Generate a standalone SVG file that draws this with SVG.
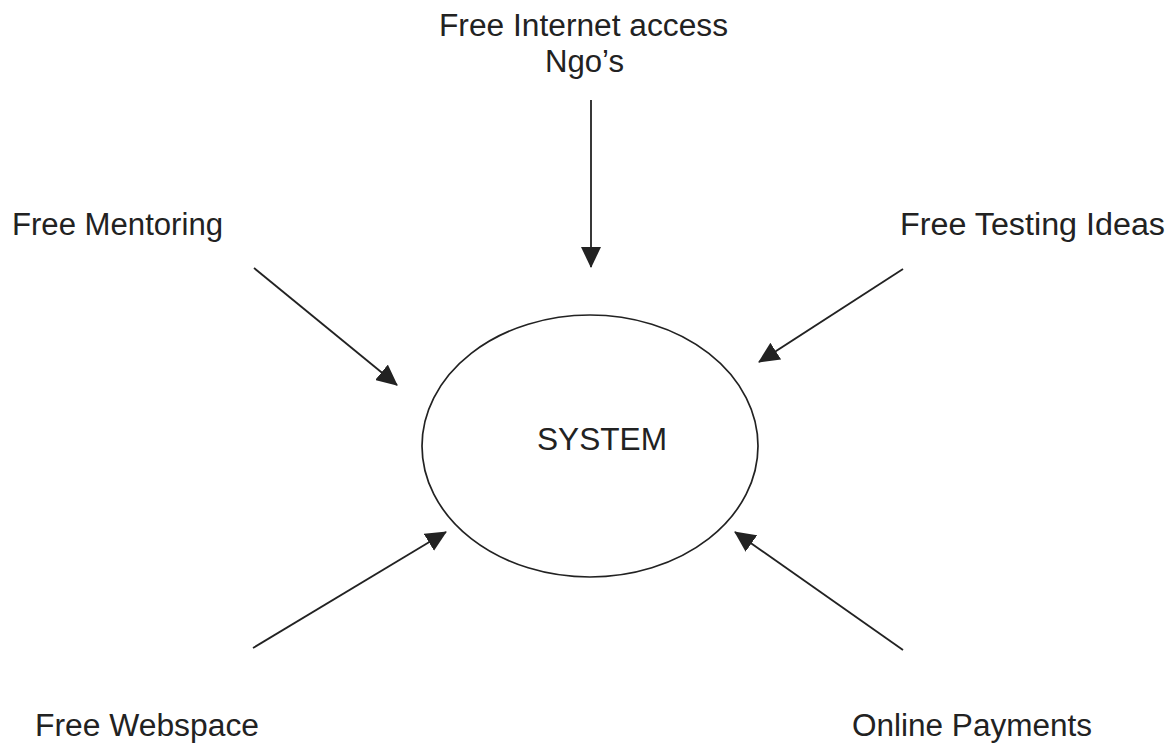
<svg xmlns="http://www.w3.org/2000/svg" width="1176" height="747" viewBox="0 0 1176 747">
<style>
  .lbl { font-family: "Liberation Sans", Arial, sans-serif; font-size: 31px; fill: #222; }
  .conn { stroke: #222; stroke-width: 1.8; fill: none; marker-end: url(#arrow); }
</style>
<defs>
  <marker id="arrow" viewBox="0 0 21 20" refX="20" refY="10" markerWidth="21" markerHeight="20" markerUnits="userSpaceOnUse" orient="auto">
    <path d="M0,0 L21,10 L0,20 Z" fill="#222"/>
  </marker>
</defs>
<rect width="1176" height="747" fill="#fff"/>
<g id="system">
  <ellipse cx="590" cy="446" rx="168" ry="131" fill="none" stroke="#222" stroke-width="1.7"/>
  <text class="lbl" x="537" y="450" textLength="130" lengthAdjust="spacingAndGlyphs">SYSTEM</text>
</g>
<g id="internet">
  <text class="lbl" x="439" y="36" textLength="289" lengthAdjust="spacingAndGlyphs">Free Internet access</text>
  <text class="lbl" x="545" y="72" textLength="79" lengthAdjust="spacingAndGlyphs">Ngo’s</text>
</g>
<g id="mentoring">
  <text class="lbl" x="12" y="235" textLength="211" lengthAdjust="spacingAndGlyphs">Free Mentoring</text>
</g>
<g id="testing">
  <text class="lbl" x="900" y="235" textLength="265" lengthAdjust="spacingAndGlyphs">Free Testing Ideas</text>
</g>
<g id="webspace">
  <text class="lbl" x="35" y="736" textLength="224" lengthAdjust="spacingAndGlyphs">Free Webspace</text>
</g>
<g id="payments">
  <text class="lbl" x="852" y="736" textLength="240" lengthAdjust="spacingAndGlyphs">Online Payments</text>
</g>
<g id="connectors">
  <line class="conn" x1="591" y1="100" x2="591" y2="267"/>
  <line class="conn" x1="254" y1="268" x2="397" y2="385"/>
  <line class="conn" x1="903" y1="269" x2="759" y2="362"/>
  <line class="conn" x1="253" y1="648" x2="446" y2="532"/>
  <line class="conn" x1="903" y1="650" x2="735" y2="532"/>
</g>
</svg>
